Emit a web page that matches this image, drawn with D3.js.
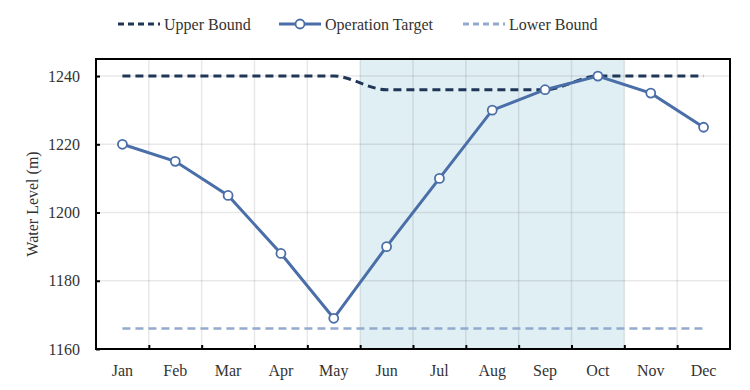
<!DOCTYPE html>
<html lang="en">
<head>
    <meta charset="UTF-8">
    <script src="https://d3js.org/d3.v7.min.js"></script>
    <title>Water Level</title>
    <style>
        body { margin: 0; background: #fff; }
        svg text { font-family: "Liberation Serif", "DejaVu Serif", serif !important; fill: #333; }
    </style>
</head>
<body>
<div id="chart"></div>
<script>
    const months = ["Jan", "Feb", "Mar", "Apr", "May", "Jun", "Jul", "Aug", "Sep", "Oct", "Nov", "Dec"];
    const upperBound = [1240, 1240, 1240, 1240, 1240, 1236, 1236, 1236, 1236, 1240, 1240, 1240];
    const operationTarget = [1220, 1215, 1205, 1188, 1169, 1190, 1210, 1230, 1236, 1240, 1235, 1225];
    const lowerBound = [1166, 1166, 1166, 1166, 1166, 1166, 1166, 1166, 1166, 1166, 1166, 1166];
    const shadedMonths = ["Jun", "Jul", "Aug", "Sep", "Oct"];
    const yTicks = [1160, 1180, 1200, 1220, 1240];

    const W = 750, H = 390;
    const margin = {top: 59, right: 20, bottom: 41, left: 96};
    const serif = "'Liberation Serif', 'DejaVu Serif', serif";

    const svg = d3.select("#chart").append("svg")
        .attr("width", W)
        .attr("height", H)
        .attr("font-family", serif);

    const x = d3.scaleBand()
        .domain(months)
        .range([margin.left, W - margin.right])
        .padding(0);
    const cx = d => x(d) + x.bandwidth() / 2;

    const y = d3.scaleLinear()
        .domain([1160, 1245])
        .range([H - margin.bottom, margin.top]);

    // shaded season
    svg.append("rect")
        .attr("x", x(shadedMonths[0]))
        .attr("y", margin.top)
        .attr("width", x.bandwidth() * shadedMonths.length)
        .attr("height", y(1160) - margin.top)
        .attr("fill", "#e0eff4");

    // grid lines
    svg.append("g")
        .selectAll("line")
        .data(yTicks.slice(1))
        .enter().append("line")
        .attr("x1", margin.left).attr("x2", W - margin.right)
        .attr("y1", d => y(d)).attr("y2", d => y(d))
        .attr("stroke", "rgba(0,0,0,0.09)")
        .attr("stroke-width", 1.5);

    svg.append("g")
        .selectAll("line")
        .data(months.slice(1))
        .enter().append("line")
        .attr("x1", d => x(d)).attr("x2", d => x(d))
        .attr("y1", margin.top).attr("y2", y(1160))
        .attr("stroke", "rgba(0,0,0,0.09)")
        .attr("stroke-width", 1.5);

    // axes
    const yAxis = svg.append("g")
        .attr("transform", `translate(${margin.left},0)`)
        .call(d3.axisLeft(y).tickValues(yTicks).tickFormat(d3.format("d"))
            .tickSizeInner(-4).tickSizeOuter(0).tickPadding(16));
    yAxis.attr("font-family", serif);
    yAxis.select(".domain").remove();
    yAxis.selectAll("line").attr("stroke", "#000").attr("stroke-width", 2);
    yAxis.selectAll("text").style("font-size", "16px");

    const xEdge = d3.scaleLinear().domain([0, 12]).range(x.range());
    const xTicks = svg.append("g")
        .attr("transform", `translate(0,${y(1160)})`)
        .call(d3.axisBottom(xEdge).tickValues(d3.range(1, 12)).tickSize(-4).tickFormat(""));
    xTicks.select(".domain").remove();
    xTicks.selectAll("line").attr("stroke", "#000").attr("stroke-width", 2);

    const xAxis = svg.append("g")
        .attr("transform", `translate(0,${y(1160)})`)
        .call(d3.axisBottom(x).tickSize(0).tickPadding(16));
    xAxis.attr("font-family", serif);
    xAxis.select(".domain").remove();
    xAxis.selectAll("text").style("font-size", "16px");

    // frame
    svg.append("rect")
        .attr("x", margin.left)
        .attr("y", margin.top)
        .attr("width", W - margin.right - margin.left)
        .attr("height", y(1160) - margin.top)
        .attr("fill", "none")
        .attr("stroke", "#000")
        .attr("stroke-width", 2);

    // y label
    svg.append("text")
        .attr("transform", `translate(38,${(margin.top + y(1160)) / 2}) rotate(-90)`)
        .attr("text-anchor", "middle")
        .style("font-size", "16px")
        .text("Water Level (m)");

    // lines
    const line = d3.line()
        .x((d, i) => cx(months[i]))
        .y(d => y(d));

    svg.append("path")
        .datum(lowerBound)
        .attr("d", line.curve(d3.curveLinear))
        .attr("fill", "none")
        .attr("stroke", "#92abcd")
        .attr("stroke-width", 2.5)
        .attr("stroke-dasharray", "8,5");

    svg.append("path")
        .datum(upperBound)
        .attr("d", line.curve(d3.curveMonotoneX))
        .attr("fill", "none")
        .attr("stroke", "#1f3657")
        .attr("stroke-width", 3)
        .attr("stroke-dasharray", "8,5");

    svg.append("path")
        .datum(operationTarget)
        .attr("d", line.curve(d3.curveLinear))
        .attr("fill", "none")
        .attr("stroke", "#4a6ea8")
        .attr("stroke-width", 3);

    svg.append("g")
        .selectAll("circle")
        .data(operationTarget)
        .enter().append("circle")
        .attr("cx", (d, i) => cx(months[i]))
        .attr("cy", d => y(d))
        .attr("r", 4.5)
        .attr("fill", "#fff")
        .attr("stroke", "#4a6ea8")
        .attr("stroke-width", 1.8);

    // legend
    const legendItems = [
        {name: "Upper Bound", color: "#1f3657", dash: "6,4", marker: false, x: 118},
        {name: "Operation Target", color: "#4a6ea8", dash: null, marker: true, x: 279},
        {name: "Lower Bound", color: "#92abcd", dash: "6,4", marker: false, x: 463}
    ];
    const legend = svg.append("g")
        .selectAll("g")
        .data(legendItems)
        .enter().append("g")
        .attr("transform", d => `translate(${d.x},24)`);

    legend.append("line")
        .attr("x1", 0).attr("x2", 42)
        .attr("stroke", d => d.color)
        .attr("stroke-width", 3)
        .attr("stroke-dasharray", d => d.dash);

    legend.filter(d => d.marker).append("circle")
        .attr("cx", 21).attr("r", 4.5)
        .attr("fill", "#fff")
        .attr("stroke", d => d.color)
        .attr("stroke-width", 1.8);

    legend.append("text")
        .attr("x", 46)
        .attr("dy", "0.35em")
        .style("font-size", "16px")
        .text(d => d.name);
</script>
</body>
</html>
